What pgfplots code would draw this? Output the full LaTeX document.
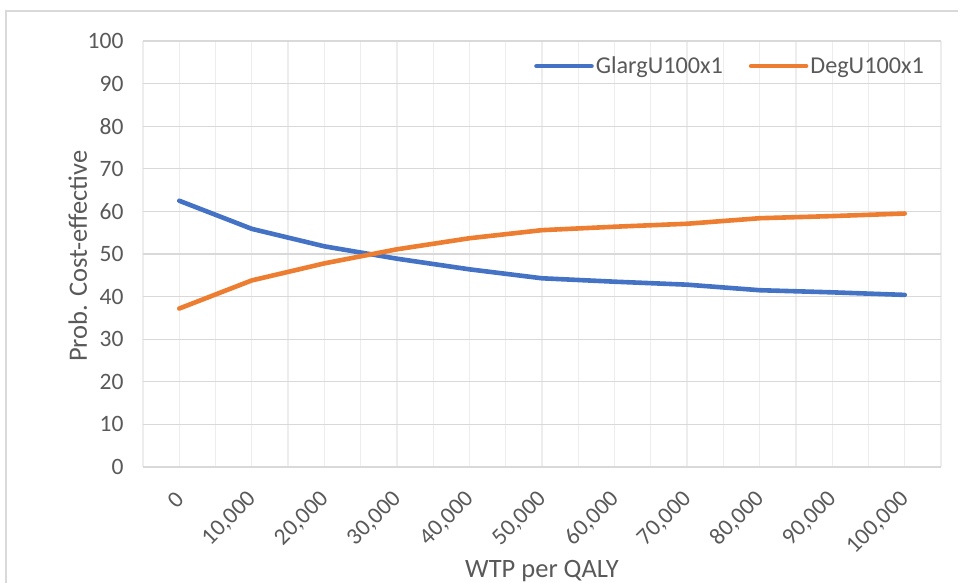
\documentclass[border=0pt]{standalone}
\usepackage{fontspec}
\setmainfont{Carlito}
\usepackage{pgfplots}
\pgfplotsset{compat=1.18}
\definecolor{textgray}{HTML}{595959}
\definecolor{gridh}{HTML}{D9D9D9}
\definecolor{gridv}{HTML}{EDEDED}
\definecolor{cblue}{HTML}{4472C4}
\definecolor{corange}{HTML}{ED7D31}
\begin{document}
\begin{tikzpicture}
\useasboundingbox (0pt,0pt) rectangle (958pt,582pt);
\draw[color=gridh, line width=1.5pt] (6pt,-20pt) -- (6pt,571pt) -- (1000pt,571pt);
\begin{axis}[
  at={(143pt,115pt)}, anchor=south west,
  width=798pt, height=426pt, scale only axis,
  xmin=-0.5, xmax=10.5, ymin=0, ymax=100,
  xtick={0,...,10},
  xticklabels={0,{10,000},{20,000},{30,000},{40,000},{50,000},{60,000},{70,000},{80,000},{90,000},{100,000}},
  minor xtick={-0.5,0.5,...,10.5},
  ytick={0,10,...,100},
  xmajorgrids, xminorgrids, ymajorgrids,
  major x grid style={color=gridv, line width=1.3pt},
  minor x grid style={color=gridv, line width=1.3pt},
  major y grid style={color=gridh, line width=1.3pt},
  axis line style={draw=none},
  major tick length=0pt, minor tick length=0pt,
  /pgf/number format/assume math mode=true,
  tick label style={color=textgray, font=\fontsize{23.5}{27}\selectfont},
  xticklabel style={xshift=3pt, yshift=-26pt, rotate=45, anchor=east},
  yticklabel style={anchor=east, xshift=-16pt},
  xlabel={WTP per QALY},
  ylabel={Prob. Cost-effective},
  label style={color=textgray, font=\fontsize{26.5}{30}\selectfont},
  xlabel style={at={(axis description cs:0.5,0)}, anchor=base, yshift=-110pt},
  ylabel style={at={(axis description cs:-0.0702,0.495)}, rotate=0, anchor=base},
  legend style={at={(axis description cs:0.49,0.941)}, anchor=west, draw=none, fill=none,
    font=\fontsize{24.2}{28}\selectfont, text=textgray, inner sep=0pt,
    /tikz/every even column/.append style={column sep=24pt}},
  legend columns=2,
  legend image code/.code={\draw[#1] (0pt,0pt) -- (55pt,0pt);},
  every axis plot/.append style={line width=4.6pt, line cap=round, line join=round},
]
\addplot[color=cblue] coordinates {
(0,62.5) (1,55.9) (2,51.8) (3,48.9) (4,46.4) (5,44.3) (6,43.5) (7,42.8) (8,41.5) (9,41.0) (10,40.4)};
\addlegendentry{GlargU100x1}
\addplot[color=corange] coordinates {
(0,37.2) (1,43.8) (2,47.8) (3,51.1) (4,53.7) (5,55.6) (6,56.4) (7,57.1) (8,58.4) (9,58.9) (10,59.5)};
\addlegendentry{DegU100x1}
\end{axis}
\end{tikzpicture}
\end{document}
